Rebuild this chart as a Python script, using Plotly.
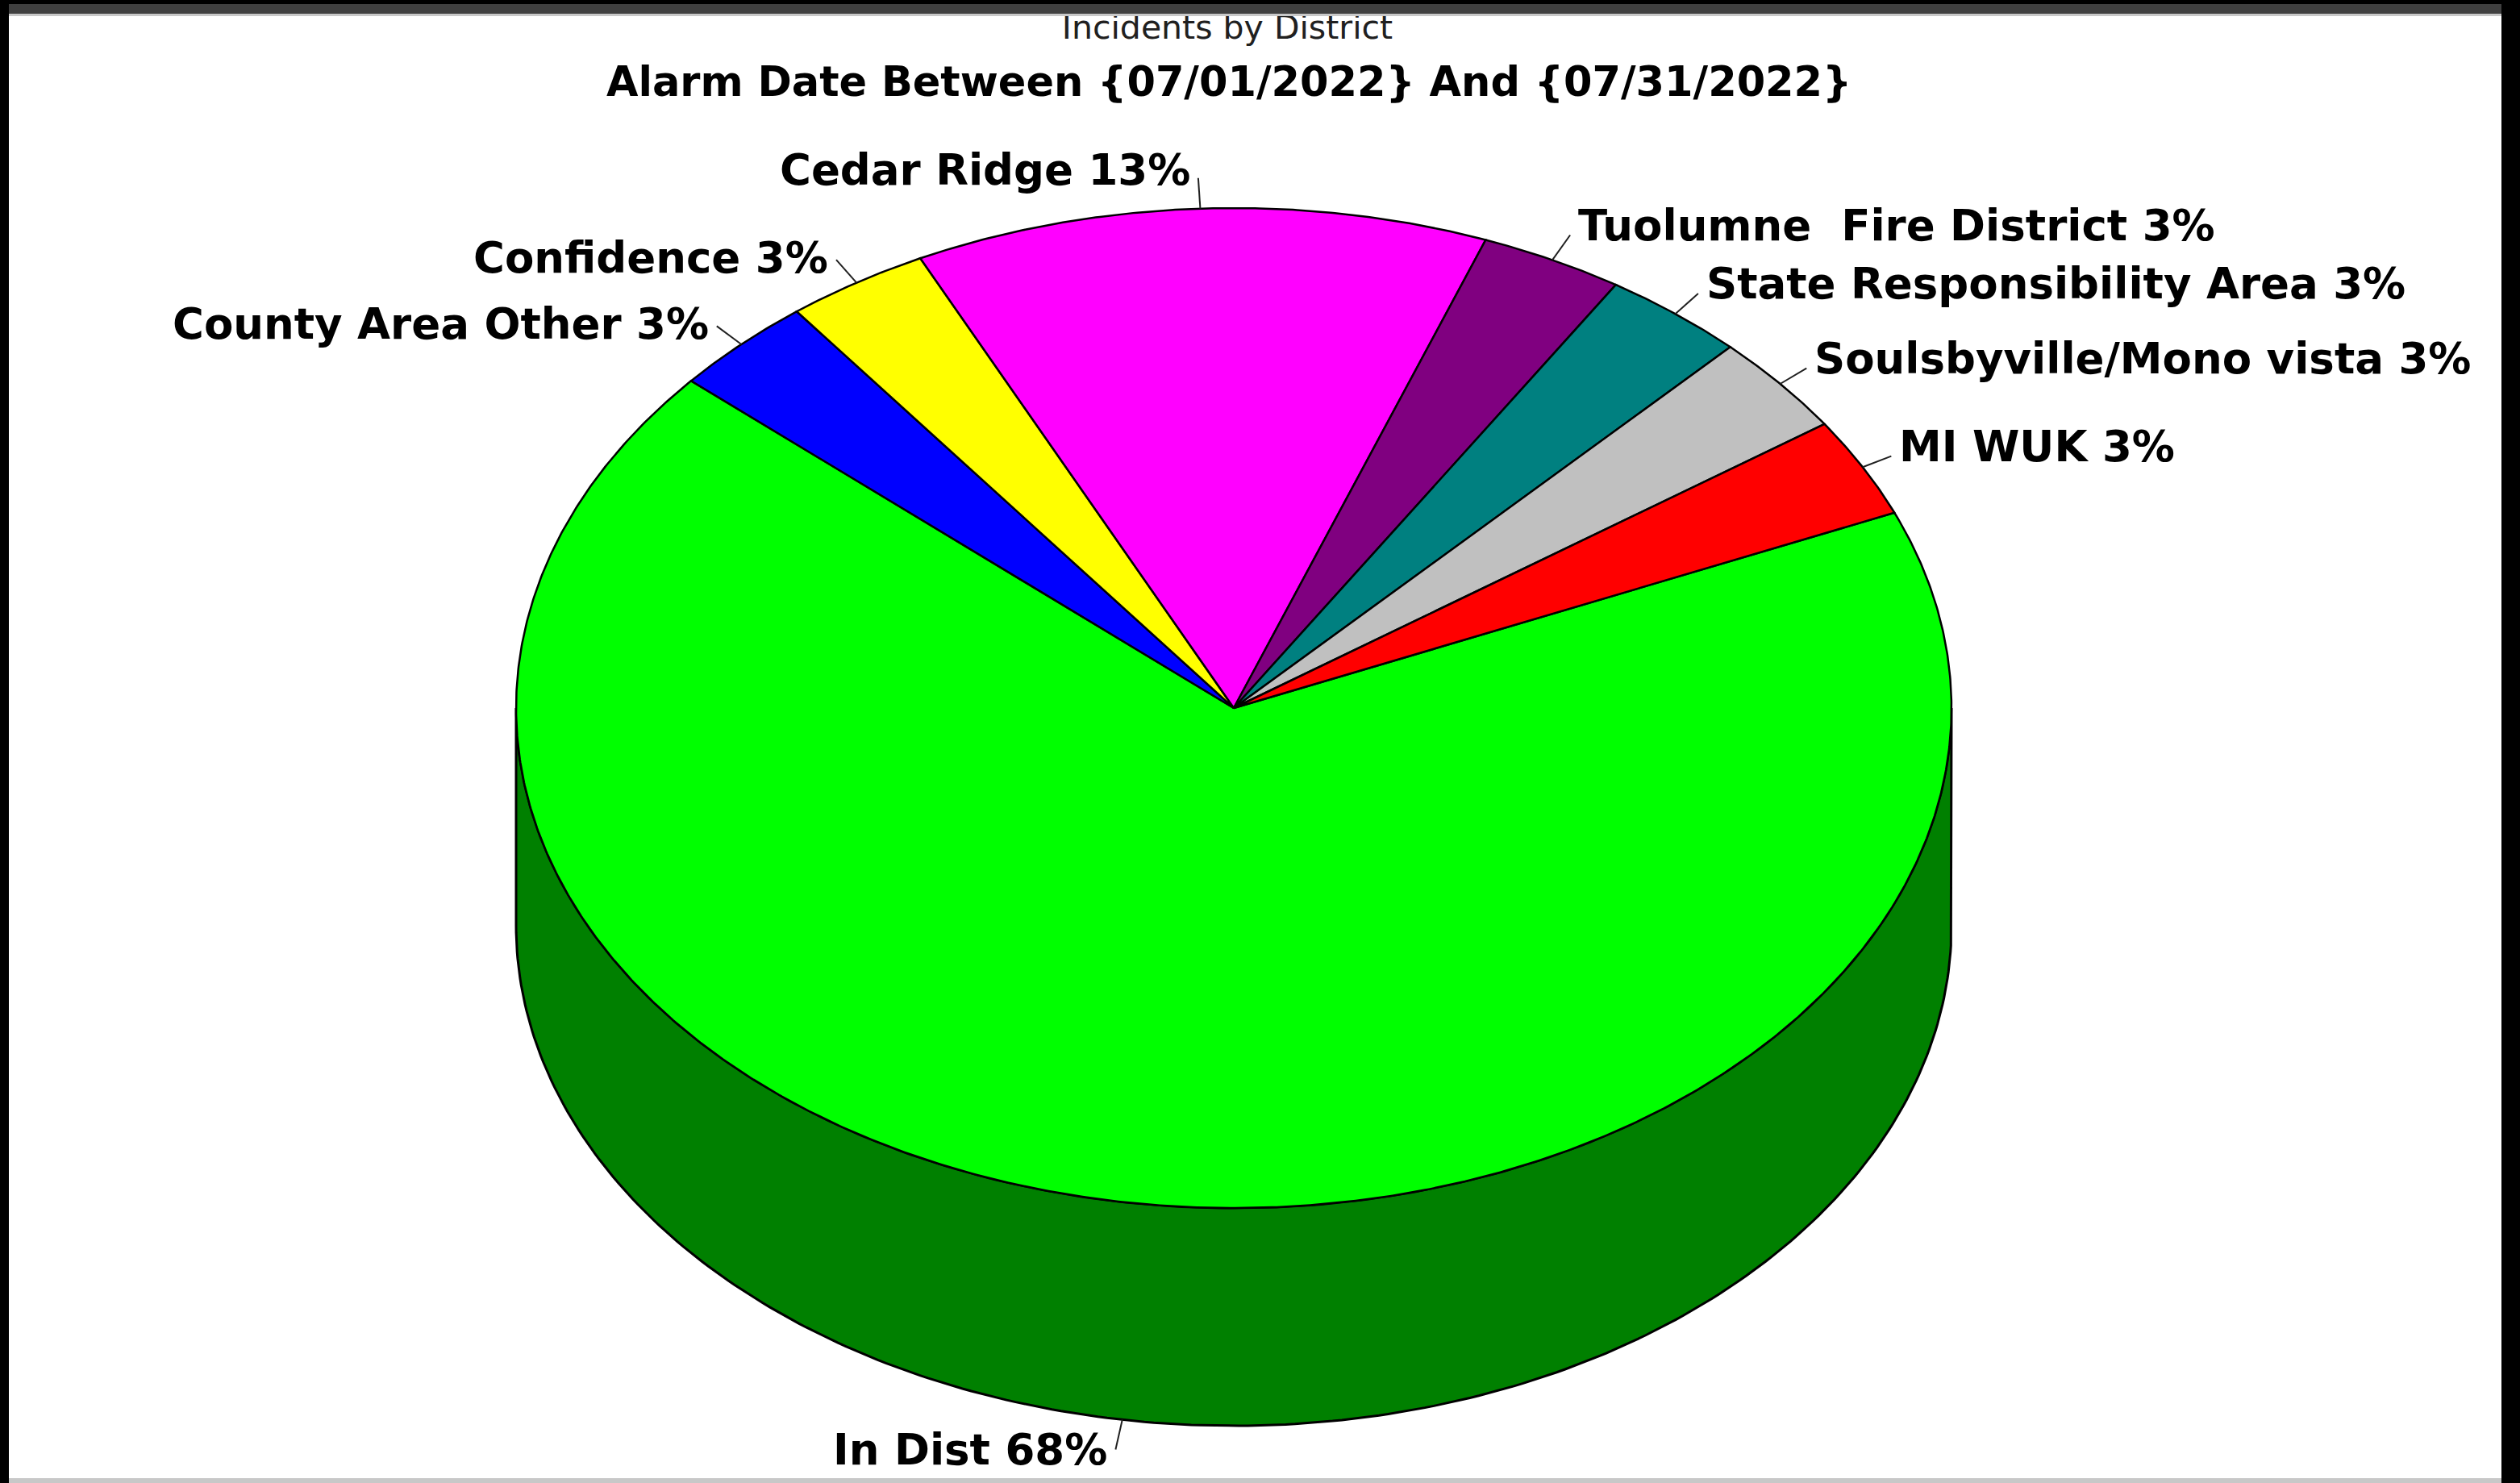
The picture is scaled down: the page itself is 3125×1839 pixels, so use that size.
import numpy as np
import plotly.graph_objects as go

# ---------------- data ----------------
districts = ["In Dist", "County Area Other", "Confidence", "Cedar Ridge",
             "Tuolumne  Fire District", "State Responsibility Area",
             "Soulsbyville/Mono vista", "MI WUK"]
incidents = [21, 1, 1, 4, 1, 1, 1, 1]
top_colors = ["#00FF00", "#0000FF", "#FFFF00", "#FF00FF",
              "#800080", "#008080", "#C0C0C0", "#FF0000"]
side_colors = ["#008000", "#000080", "#808000", "#800080",
               "#400040", "#004040", "#808080", "#800000"]
header_text = "Incidents by District"
title_text = "Alarm Date Between {07/01/2022} And {07/31/2022}"

# ---------------- geometry (pixels) ----------------
W, H = 3125, 1839
CX, CY = 1530, 878        # centre of the top ellipse
RX, RY = 890, 620         # radii of the top ellipse
DEPTH = 270               # thickness of the pie
START = 383.0             # degrees, slices run clockwise from here
LEADER = 38
GAP = 8
D = DEPTH / RY

def to_data(px, py):
    return (px - CX) / RX, (CY - py) / RY

vals = np.array(incidents, dtype=float)
angles = vals / vals.sum() * 360.0
hi = START - np.concatenate([[0], np.cumsum(angles)[:-1]])
lo = hi - angles

fig = go.Figure()

# ---- side walls (front half only) ----
for i in range(len(vals)):
    for k in (-1, 0, 1):
        a0 = max(lo[i], 180 + 360 * k)
        a1 = min(hi[i], 360 + 360 * k)
        if a1 > a0:
            t = np.radians(np.linspace(a0, a1, 240))
            xs = np.concatenate([np.cos(t), np.cos(t[::-1])])
            ys = np.concatenate([np.sin(t), np.sin(t[::-1]) - D])
            xs = np.append(xs, xs[0]); ys = np.append(ys, ys[0])
            fig.add_trace(go.Scatter(x=xs, y=ys, mode="lines", fill="toself",
                                     fillcolor=side_colors[i],
                                     line=dict(color="black", width=3),
                                     hoverinfo="skip", showlegend=False))

# ---- top faces ----
for i in range(len(vals)):
    n = max(int(angles[i] * 3), 12)
    t = np.radians(np.linspace(lo[i], hi[i], n))
    xs = np.concatenate([[0], np.cos(t), [0]])
    ys = np.concatenate([[0], np.sin(t), [0]])
    fig.add_trace(go.Scatter(x=xs, y=ys, mode="lines", fill="toself",
                             fillcolor=top_colors[i],
                             line=dict(color="black", width=2.5),
                             name=districts[i],
                             hoverinfo="skip", showlegend=False))

# ---- labels with leader lines ----
annotations = []
for i in range(len(vals)):
    mid = np.radians((lo[i] + hi[i]) / 2)
    c, s = np.cos(mid), np.sin(mid)
    ax = CX + RX * c
    ay = CY - RY * s + (DEPTH if s < 0 else 0)
    dx, dy = RX * c, -RY * s
    nrm = np.hypot(dx, dy)
    ex, ey = ax + LEADER * dx / nrm, ay + LEADER * dy / nrm
    p0 = to_data(ax, ay); p1 = to_data(ex, ey)
    fig.add_trace(go.Scatter(x=[p0[0], p1[0]], y=[p0[1], p1[1]], mode="lines",
                             line=dict(color="#202020", width=2),
                             hoverinfo="skip", showlegend=False))
    pct = vals[i] / vals.sum() * 100
    right = c >= 0
    if s > 0.95:
        ys_ = 10
    elif right:
        ys_ = 12
    elif s > 0:
        ys_ = 3
    else:
        ys_ = 0
    annotations.append(dict(
        x=p1[0], y=p1[1], xref="x", yref="y", showarrow=False,
        text=f"{districts[i]} {pct:.0f}%",
        xanchor="left" if right else "right", yanchor="middle",
        xshift=GAP if right else -GAP, yshift=ys_,
        font=dict(family="DejaVu Sans", size=53, color="black", weight="bold")))

# ---- titles ----
tx, ty = to_data(1524, 101)
annotations.append(dict(x=tx, y=ty, xref="x", yref="y", showarrow=False,
                        text=title_text, xanchor="center", yanchor="middle",
                        font=dict(family="DejaVu Sans", size=51, color="black",
                                  weight="bold")))
hx, hy = to_data(1522, 38)
fig.add_trace(go.Scatter(x=[hx], y=[hy], mode="text", text=[header_text],
                         textposition="middle center",
                         textfont=dict(family="DejaVu Sans", size=41, color="#202020"),
                         hoverinfo="skip", showlegend=False))

# ---- window frame ----
def prect(x0, y0, x1, y1, color):
    return dict(type="rect", xref="paper", yref="paper",
                x0=x0 / W, x1=x1 / W, y0=1 - y1 / H, y1=1 - y0 / H,
                fillcolor=color, line=dict(width=0), layer="above")

shapes = [
    prect(0, 0, W, 5, "black"),
    prect(0, 5, W, 17, "#404040"),
    prect(0, 17, W, 20, "#C8C8C8"),
    prect(0, 1833, W, H, "#C8C8C8"),
    prect(0, 0, 11, H, "black"),
    prect(3102, 0, W, H, "black"),
]

xr = [to_data(0, 0)[0], to_data(W, 0)[0]]
yr = [to_data(0, H)[1], to_data(0, 0)[1]]
fig.update_layout(
    width=W, height=H, margin=dict(l=0, r=0, t=0, b=0),
    paper_bgcolor="white", plot_bgcolor="white",
    xaxis=dict(range=xr, visible=False, fixedrange=True),
    yaxis=dict(range=yr, visible=False, fixedrange=True),
    annotations=annotations, shapes=shapes, showlegend=False,
)
fig.write_html("out.html")
